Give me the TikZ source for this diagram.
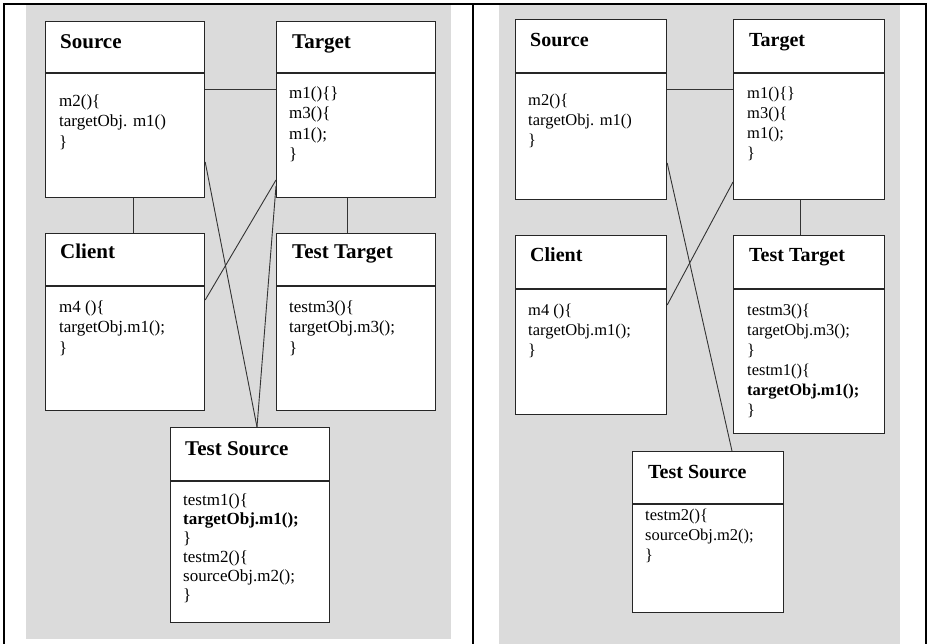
\documentclass[tikz,border=0pt]{standalone}
\usepackage{fontspec}
\setmainfont{Liberation Serif}
\definecolor{panel}{RGB}{219,219,219}

\begin{document}
\begin{tikzpicture}[x=1pt,y=-1pt,
  classbox/.style={draw=black!85,line width=1.2pt,fill=white,anchor=north west,inner sep=0},
  titleL/.style={anchor=base west,inner sep=0,font=\fontsize{21}{25}\selectfont\bfseries},
  bodyL/.style={anchor=north west,inner sep=0,align=left,font=\fontsize{17}{20.5}\selectfont},
  titleR/.style={anchor=base west,inner sep=0,font=\fontsize{20}{24}\selectfont\bfseries},
  bodyR/.style={anchor=north west,inner sep=0,align=left,font=\fontsize{16.5}{20}\selectfont},
  link/.style={draw=black!80,line width=0.9pt}]
\useasboundingbox (0,0) rectangle (927,644);
% 背景与表格边框
\fill[white] (0,0) rectangle (927,644);
\fill[panel] (26,5) rectangle (451,639);
\fill[panel] (499,5) rectangle (900,644);
\draw[line width=2.5pt] (4,644) -- (4,4) -- (926,4) -- (926,644);
\draw[line width=2.8pt] (473,4) -- (473,644);

% ===== 左图 =====
% Source
\node[classbox,minimum width=159,minimum height=176] (srcL) at (45,21) {};
\draw[classbox] (srcL.west |- 0,73) -- (srcL.east |- 0,73);
\node[titleL] (srcLt) at (60,49) {Source};
\node[bodyL] (srcLb) at (59,94.5) {m2()\{\\targetObj. m1()\\\}};
% Target
\node[classbox,minimum width=159,minimum height=176] (tgtL) at (276,21) {};
\draw[classbox] (tgtL.west |- 0,73) -- (tgtL.east |- 0,73);
\node[titleL] (tgtLt) at (292,49) {Target};
\node[bodyL] (tgtLb) at (289,86.5) {m1()\{\}\\m3()\{\\m1();\\\}};
% Client
\node[classbox,minimum width=159,minimum height=177] (cliL) at (45,233) {};
\draw[classbox] (cliL.west |- 0,286) -- (cliL.east |- 0,286);
\node[titleL] (cliLt) at (60,259) {Client};
\node[bodyL] (cliLb) at (59,300.5) {m4 ()\{\\targetObj.m1();\\\}};
% Test Target
\node[classbox,minimum width=159,minimum height=177] (ttL) at (276,233) {};
\draw[classbox] (ttL.west |- 0,286) -- (ttL.east |- 0,286);
\node[titleL] (ttLt) at (292,259) {Test Target};
\node[bodyL] (ttLb) at (289,300.5) {testm3()\{\\targetObj.m3();\\\}};
% Test Source
\node[classbox,minimum width=159,minimum height=195] (tsL) at (170,427) {};
\draw[classbox] (tsL.west |- 0,481) -- (tsL.east |- 0,481);
\node[titleL] (tsLt) at (185,455) {Test Source};
\node[bodyL,font=\fontsize{17}{19}\selectfont] (tsLb) at (183,493.5)
  {testm1()\{\\\textbf{targetObj.m1();}\\\}\\testm2()\{\\sourceObj.m2();\\\}};
% 连线
\draw[link] (srcL.east |- 0,89) -- (tgtL.west |- 0,89);
\draw[link] (srcL.south -| 133,0) -- (cliL.north -| 133,0);
\draw[link] (tgtL.south -| 347,0) -- (ttL.north -| 347,0);
\draw[link] (srcL.east |- 0,162) -- (tsL.north -| 257,0);
\draw[link] (tgtL.west |- 0,180) -- (cliL.east |- 0,300);
\draw[link] (tgtL.west |- 0,186) -- (tsL.north -| 257,0);

% ===== 右图 =====
% Source
\node[classbox,minimum width=151,minimum height=180] (srcR) at (515,19) {};
\draw[classbox] (srcR.west |- 0,73) -- (srcR.east |- 0,73);
\node[titleR] (srcRt) at (530,47) {Source};
\node[bodyR] (srcRb) at (528,93.5) {m2()\{\\targetObj. m1()\\\}};
% Target
\node[classbox,minimum width=151,minimum height=180] (tgtR) at (733,19) {};
\draw[classbox] (tgtR.west |- 0,73) -- (tgtR.east |- 0,73);
\node[titleR] (tgtRt) at (749,47) {Target};
\node[bodyR] (tgtRb) at (747,86.5) {m1()\{\}\\m3()\{\\m1();\\\}};
% Client
\node[classbox,minimum width=151,minimum height=179] (cliR) at (515,235) {};
\draw[classbox] (cliR.west |- 0,289) -- (cliR.east |- 0,289);
\node[titleR] (cliRt) at (530,262) {Client};
\node[bodyR] (cliRb) at (528,303.5) {m4 ()\{\\targetObj.m1();\\\}};
% Test Target
\node[classbox,minimum width=151,minimum height=198] (ttR) at (733,235) {};
\draw[classbox] (ttR.west |- 0,289) -- (ttR.east |- 0,289);
\node[titleR] (ttRt) at (749,262) {Test Target};
\node[bodyR] (ttRb) at (747,303.5)
  {testm3()\{\\targetObj.m3();\\\}\\testm1()\{\\\textbf{targetObj.m1();}\\\}};
% Test Source
\node[classbox,minimum width=151,minimum height=161] (tsR) at (632,451) {};
\draw[classbox] (tsR.west |- 0,504) -- (tsR.east |- 0,504);
\node[titleR] (tsRt) at (648,478) {Test Source};
\node[bodyR] (tsRb) at (645,508.5) {testm2()\{\\sourceObj.m2();\\\}};
% 连线
\draw[link] (srcR.east |- 0,89) -- (tgtR.west |- 0,89);
\draw[link] (tgtR.south -| 800,0) -- (ttR.north -| 800,0);
\draw[link] (srcR.east |- 0,163) -- (tsR.north -| 732,0);
\draw[link] (tgtR.west |- 0,182) -- (cliR.east |- 0,305);
\end{tikzpicture}
\end{document}
